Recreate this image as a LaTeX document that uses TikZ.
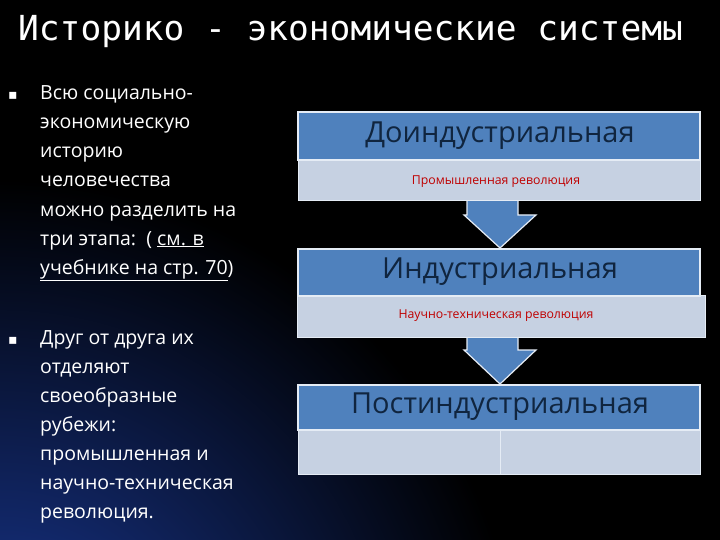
\documentclass[tikz,border=0pt]{standalone}
\usepackage{fontspec}
\setmainfont{Open Sans}
\newfontfamily\titlefont{DejaVu Sans Mono}
\newfontfamily\dejavu{DejaVu Sans}
\begin{document}
\begin{tikzpicture}[x=1pt,y=-1pt,
  band/.style={fill=bandblue,draw=white!85!bandblue,line width=1.2pt},
  lite/.style={fill=liteblue,draw=white!85!bandblue,line width=1pt},
  big/.style={font=\fontsize{29}{32}\selectfont,text=navy},
  small/.style={font=\fontsize{12.3}{14}\selectfont,text=red!75!black},
  ln/.style={anchor=base west,text=white,font=\fontsize{19.5}{22}\selectfont,inner sep=0pt},
  bul/.style={anchor=base west,text=white,font=\dejavu\fontsize{14}{15}\selectfont,inner sep=0pt},
  arr/.style={fill=bandblue,draw=white!85!bandblue,line width=1.2pt}]
\definecolor{bandblue}{HTML}{4F81BD}
\definecolor{liteblue}{HTML}{C6D1E2}
\definecolor{navy}{HTML}{10253F}
\definecolor{deepblue}{HTML}{1A3A9A}
\useasboundingbox (0,0) rectangle (720,540);
\fill[black] (0,0) rectangle (720,540);
\begin{scope}
\clip (0,0) rectangle (720,540);
\shade[inner color=deepblue,outer color=black] (0,700) circle (520);
\end{scope}
\node[anchor=base west,text=white,font=\titlefont\fontsize{34.5}{38}\selectfont,inner sep=0pt] (title) at (18,41) {Историко - экономические системы};
% left text
\node[bul] (b1) at (8,100) {▪};
\node[ln] (l1) at (40,100) {Всю социально-};
\node[ln] (l2) at (40,129) {экономическую};
\node[ln] (l3) at (40,158) {историю};
\node[ln] (l4) at (40,187) {человечества};
\node[ln] (l5) at (40,216) {можно разделить на};
\node[ln] (l6) at (40,245) {три этапа:\ \ ( \underline{см. в}};
\node[ln] (l7) at (40,274) {\underline{учебнике на стр. 70})};
\node[bul] (b2) at (8,344) {▪};
\node[ln] (m1) at (40,344) {Друг от друга их};
\node[ln] (m2) at (40,373) {отделяют};
\node[ln] (m3) at (40,402) {своеобразные};
\node[ln] (m4) at (40,431) {рубежи:};
\node[ln] (m5) at (40,460) {промышленная и};
\node[ln] (m6) at (40,489) {научно-техническая};
\node[ln] (m7) at (40,518) {революция.};
% arrows
\draw[arr] (467,199)--(518,199)--(518,215)--(536,215)--(500,248)--(464,215)--(467,215)--cycle;
\draw[arr] (467,335)--(518,335)--(518,350)--(536,350)--(500,384)--(464,350)--(467,350)--cycle;
% boxes
\draw[lite] (298,158) rectangle (700,201);
\draw[band] (298,112) rectangle (700,160);
\node[big] (d) at (500,136) {Доиндустриальная};
\node[small] (pr) at (496,182) {Промышленная революция};
\draw[lite] (297,295) rectangle (705,337);
\draw[band] (298,249) rectangle (700,296);
\node[big] (i) at (500,272) {Индустриальная};
\node[small] (nt) at (496,316) {Научно-техническая революция};
\draw[lite] (298,429) rectangle (700,474);
\draw[lite] (500,429) -- (500,474);
\draw[band] (298,385) rectangle (700,430);
\node[big] (p) at (500,407) {Постиндустриальная};
\end{tikzpicture}
\end{document}
